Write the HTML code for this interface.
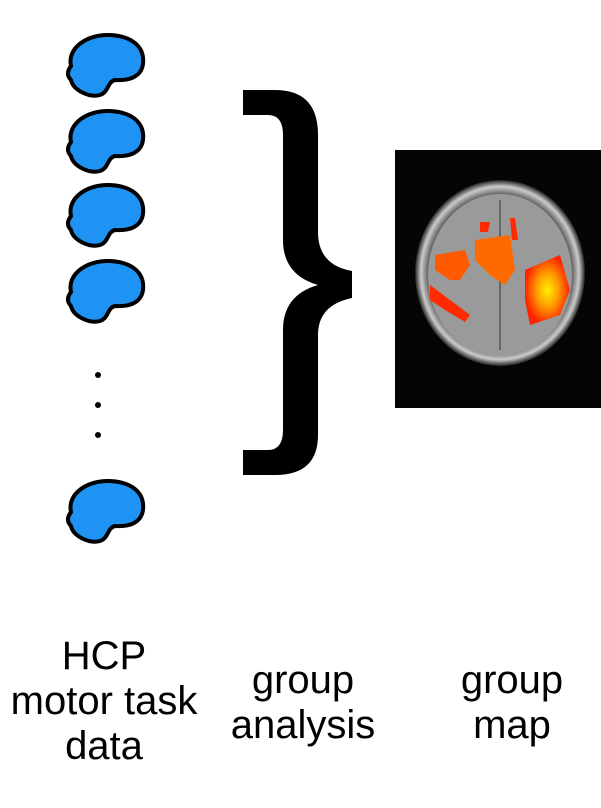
<!DOCTYPE html>
<html><head><style>
body{margin:0;background:#fff;width:601px;height:808px;overflow:hidden;font-family:"Liberation Sans",sans-serif;}
.t{position:absolute;font-size:40px;text-align:center;line-height:45px;color:#000;white-space:nowrap;}
</style></head><body>
<svg width="601" height="808" style="position:absolute;left:0;top:0">
<defs>
<symbol id="b" overflow="visible"><path d="M6,32 C2,14 22,0 45,1 C66,2 80,12 78,30 C76,44 62,47 50,46 C42,48 44,58 35,61 C24,64 8,56 6,46 C1,41 3,36 6,32 Z" fill="#1f93f3" stroke="#000" stroke-width="4"/></symbol>
<radialGradient id="hot" cx="0.5" cy="0.5" r="0.5"><stop offset="0" stop-color="#ffee00"/><stop offset="0.5" stop-color="#ff9900"/><stop offset="1" stop-color="#ff2200"/></radialGradient>
<radialGradient id="sk" cx="0.5" cy="0.5" r="0.5"><stop offset="0.85" stop-color="#666"/><stop offset="0.93" stop-color="#ccc"/><stop offset="1" stop-color="#222"/></radialGradient>
</defs>
<use href="#b" x="65" y="34"/>
<use href="#b" x="65" y="110"/>
<use href="#b" x="65" y="184"/>
<use href="#b" x="65" y="260"/>
<use href="#b" x="65" y="480"/>
<circle cx="98" cy="375" r="3" fill="#000"/>
<circle cx="98" cy="405" r="3" fill="#000"/>
<circle cx="98" cy="435" r="3" fill="#000"/>
<path d="M243,90 L275,90 Q318,90 318,135 L318,232 Q318,265 352,271 L352,298 Q318,305 318,335 L318,435 Q318,475 275,475 L243,475 L243,450 L268,450 Q283,450 283,430 L283,330 Q283,295 318,285 Q283,275 283,240 L283,135 Q283,115 268,115 L243,115 Z" fill="#000"/>
<rect x="395" y="150" width="206" height="258" fill="#050505"/>
<ellipse cx="500" cy="273" rx="85" ry="93" fill="url(#sk)"/>
<ellipse cx="500" cy="275" rx="72" ry="81" fill="#9a9a9a"/>
<line x1="500" y1="200" x2="500" y2="350" stroke="#666" stroke-width="2"/>
<path d="M435,255 L465,250 L470,265 L460,280 L450,280 L435,270Z" fill="#ff5a00"/>
<path d="M475,240 L510,235 L515,270 L505,285 L490,275 L475,260Z" fill="#ff6a00"/>
<path d="M480,222 L490,222 L488,232 L480,232Z M510,218 L515,218 L518,240 L512,240Z" fill="#ff2a00"/>
<path d="M525,270 L560,255 L570,290 L560,315 L530,325 L525,300Z" fill="url(#hot)"/>
<path d="M430,285 L450,300 L470,315 L465,322 L445,310 L430,300Z" fill="#ff2a00"/>
</svg>
<div class="t" style="left:0;width:208px;top:634px">HCP<br>motor task<br>data</div>
<div class="t" style="left:203px;width:200px;top:658px">group<br>analysis</div>
<div class="t" style="left:412px;width:200px;top:658px">group<br>map</div>
</body></html>
